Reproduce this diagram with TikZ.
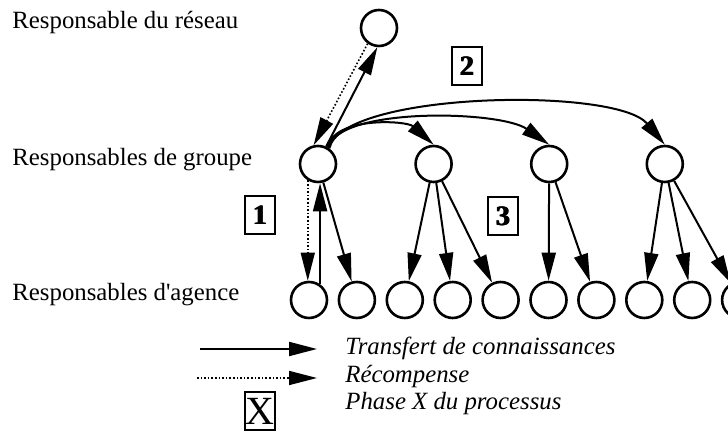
\documentclass[tikz,border=0pt]{standalone}
\usepackage{fontspec}
\setmainfont{Liberation Serif}
\usetikzlibrary{arrows.meta,positioning,calc}
\newcommand\phasenum[1]{\rlap{#1}\kern0.3pt\rlap{#1}\kern0.3pt#1}

\begin{document}
\begin{tikzpicture}[x=0.5pt, y=0.5pt,
    person/.style={circle, draw, line width=1.3pt, minimum size=18pt, inner sep=0pt},
    phase/.style={rectangle, draw, line width=1pt, minimum width=15pt, minimum height=19pt, inner sep=0pt, font=\fontsize{14}{14}\selectfont\bfseries},
    transfer/.style={-{Triangle[length=14pt,width=7pt]}, line width=1pt},
    reward/.style={-{Triangle[length=14pt,width=7pt]}, line width=0.8pt, densely dotted},
    role/.style={anchor=base west, inner sep=0pt, font=\fontsize{12.4}{15}\selectfont},
    legend/.style={anchor=base west, inner sep=0pt, font=\fontsize{12.4}{15}\selectfont\itshape},
]
\useasboundingbox (0,0) rectangle (728,432);
\clip (0,0) rectangle (728,432);

% levels
\node[role] (lr) at (12,403) {Responsable du réseau};
\node[role] (lg) at (12,266) {Responsables de groupe};
\node[role] (la) at (12,131) {Responsables d\textquotesingle agence};

\node[person] (top) at (379,404) {};

\node[person] (g1) at (318,268) {};
\node[person, right=38.5pt of g1] (g2) {};
\node[person, right=38.5pt of g2] (g3) {};
\node[person, right=38.5pt of g3] (g4) {};

\node[person] (b1) at (309,132) {};
\node[person, right=4.65pt of b1] (b2) {};
\node[person, right=4.65pt of b2] (b3) {};
\node[person, right=4.65pt of b3] (b4) {};
\node[person, right=4.65pt of b4] (b5) {};
\node[person, right=4.65pt of b5] (b6) {};
\node[person, right=4.65pt of b6] (b7) {};
\node[person, right=4.65pt of b7] (b8) {};
\node[person, right=4.65pt of b8] (b9) {};
\node[person, right=4.65pt of b9] (b10) {};

% phases
\node[phase] (p1) at (260,217) {\phasenum{1}};
\node[phase] (p2) at (467,366) {\phasenum{2}};
\node[phase] (p3) at (503,216) {\phasenum{3}};

% phase 1
\draw[reward] (g1.238) -- (g1.238 |- b1.north);
\draw[transfer] (b1.55) -- (b1.55 |- g1.south);
\draw[transfer] (g1) -- (b2);

% phase 2
\draw[transfer] (g1.65) -- (top.265);
\draw[reward] (top.234) -- (g1.103);
\draw[transfer] (g1.60) to[out=78, in=138, out distance=16pt, in distance=18pt] (g2.north);
\draw[transfer] (g1.57) to[out=78, in=145, out distance=21pt, in distance=30pt] (g3.north);
\draw[transfer] (g1.54) to[out=78, in=130, out distance=29pt, in distance=38pt] (g4.north);

% phase 3
\draw[transfer] (g2) -- (b3);
\draw[transfer] (g2) -- (b4);
\draw[transfer] (g2) -- (b5);
\draw[transfer] (g3) -- (b6);
\draw[transfer] (g3) -- (b7);
\draw[transfer] (g4) -- (b8);
\draw[transfer] (g4) -- (b9);
\draw[transfer] (g4) -- (b10);

% legend
\coordinate (ta) at (200,83);
\coordinate (tb) at (317,83);
\coordinate (ra) at (197,54);
\coordinate (rb) at (317,54);
\draw[transfer] (ta) -- (tb);
\draw[reward] (ra) -- (rb);
\node[phase, font=\fontsize{20}{20}\selectfont] (px) at (260,21) {X};
\node[legend] (lt) at (345,77) {Transfert de connaissances};
\node[legend] (lrw) at (345,49) {Récompense};
\node[legend] (lp) at (345,22) {Phase X du processus};
\end{tikzpicture}
\end{document}
